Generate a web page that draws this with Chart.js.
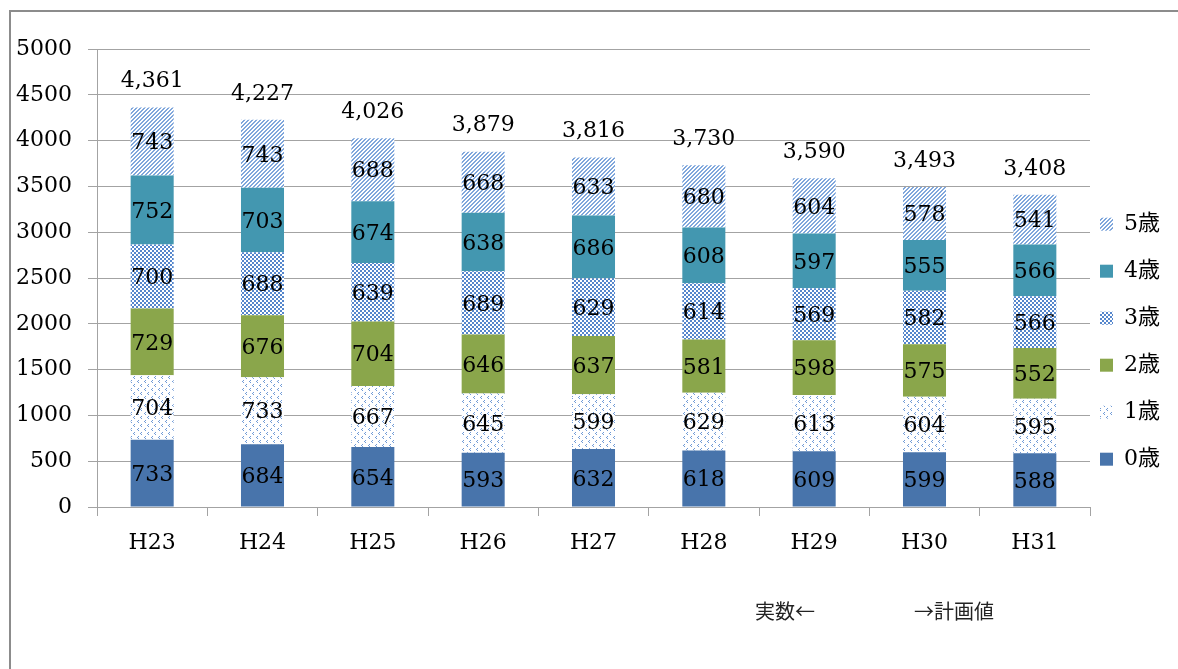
<!DOCTYPE html>
<html lang="ja">
<head>
    <meta charset="UTF-8">
    <title>年齢別児童数の推移</title>
    <script src="https://cdn.jsdelivr.net/npm/chart.js"></script>
    <style>
        html, body { margin: 0; padding: 0; background: #fff; overflow: hidden; }
        #wrap { position: relative; width: 1178px; height: 669px; }
        #frame { position: absolute; left: 9px; top: 10px; width: 1300px; height: 800px; border: 2px solid #8c8c8c; box-sizing: border-box; }
        canvas { position: absolute; left: 0; top: 0; }
        .note { position: absolute; top: 600px; font-family: "Noto Sans CJK JP", sans-serif; font-size: 20px; line-height: 22px; color: #222; }
    </style>
</head>
<body>
<div id="wrap">
    <div id="frame"></div>
    <canvas id="chartKids" width="1178" height="669"></canvas>
    <span class="note" style="left: 755px;">実数←</span>
    <span class="note" style="left: 914px;">→計画値</span>
</div>

<script>
// data
const years = ['H23', 'H24', 'H25', 'H26', 'H27', 'H28', 'H29', 'H30', 'H31'];
const ages = ['0歳', '1歳', '2歳', '3歳', '4歳', '5歳'];
const age0 = [733, 684, 654, 593, 632, 618, 609, 599, 588];
const age1 = [704, 733, 667, 645, 599, 629, 613, 604, 595];
const age2 = [729, 676, 704, 646, 637, 581, 598, 575, 552];
const age3 = [700, 688, 639, 689, 629, 614, 569, 582, 566];
const age4 = [752, 703, 674, 638, 686, 608, 597, 555, 566];
const age5 = [743, 743, 688, 668, 633, 680, 604, 578, 541];
const totals = [4361, 4227, 4026, 3879, 3816, 3730, 3590, 3493, 3408];
const yMax = 5000;
const yStep = 500;

const serif = "'DejaVu Serif', 'Noto Sans CJK JP', serif";
const gridGray = '#a3a3a3';

// fill patterns like the office chart
function makePattern(w, h, draw) {
    const c = document.createElement('canvas');
    c.width = w;
    c.height = h;
    const g = c.getContext('2d');
    g.fillStyle = '#fff';
    g.fillRect(0, 0, w, h);
    draw(g, w, h);
    return g.createPattern(c, 'repeat');
}

// crisp "/" hatching, 2px lines with 2px gaps
const stripes = makePattern(4, 4, (g) => {
    g.fillStyle = '#80a7dc';
    for (let y = 0; y < 4; y++) {
        for (let x = 0; x < 4; x++) {
            if ((x + y) % 4 === 3 || (x + y) % 4 === 0) g.fillRect(x, y, 1, 1);
        }
    }
});

const checker = makePattern(4, 4, (g) => {
    g.fillStyle = '#5586cc';
    g.fillRect(2, 0, 2, 2);
    g.fillRect(0, 2, 2, 2);
});

const dots = makePattern(7, 8, (g) => {
    g.fillStyle = '#6f9ad6';
    g.fillRect(1, 0, 1, 1); g.fillRect(0, 1, 1, 1); g.fillRect(1, 2, 1, 1);
    g.fillRect(5, 4, 1, 1); g.fillRect(4, 5, 1, 1); g.fillRect(5, 6, 1, 1);
});

const fills = ['#4874ab', dots, '#8aa64b', checker, '#4397b0', stripes];
const series = [age0, age1, age2, age3, age4, age5];

// numbers inside the bars and totals above them
const valueLabels = {
    id: 'valueLabels',
    afterDatasetsDraw(chart) {
        const ctx = chart.ctx;
        ctx.save();
        ctx.font = "22px " + serif;
        ctx.fillStyle = '#000';
        ctx.textAlign = 'center';
        ctx.textBaseline = 'middle';
        chart.data.datasets.forEach((ds, i) => {
            chart.getDatasetMeta(i).data.forEach((bar, j) => {
                const p = bar.getCenterPoint();
                ctx.fillText(ds.data[j], p.x, p.y + 2);
            });
        });
        const topBars = chart.getDatasetMeta(chart.data.datasets.length - 1).data;
        topBars.forEach((bar, j) => {
            ctx.fillText(totals[j].toLocaleString('en-US'), bar.x, bar.y - 26);
        });
        ctx.restore();
    }
};

Chart.defaults.color = '#000';

new Chart(document.getElementById('chartKids'), {
    type: 'bar',
    data: {
        labels: years,
        datasets: series.map((d, i) => ({
            label: ages[i],
            data: d,
            backgroundColor: fills[i],
            borderWidth: 0,
            barPercentage: 0.39,
            categoryPercentage: 1
        }))
    },
    options: {
        responsive: false,
        animation: false,
        layout: { padding: { left: 13, right: 8, top: 49, bottom: 102 } },
        plugins: {
            tooltip: { enabled: false },
            legend: {
                position: 'right',
                reverse: true,
                title: { display: true, text: '', font: { size: 12 }, padding: { top: 0, bottom: 68 } },
                labels: {
                    boxWidth: 13,
                    boxHeight: 13,
                    padding: 10,
                    color: '#000',
                    font: { family: serif, size: 22, lineHeight: 37 / 22 },
                    // one-line arrays so the font line height sets the row spacing
                    generateLabels: chart => Chart.defaults.plugins.legend.labels.generateLabels(chart)
                        .map(item => Object.assign(item, { text: [item.text] }))
                }
            }
        },
        scales: {
            x: {
                stacked: true,
                grid: { offset: true, drawOnChartArea: false, tickLength: 9, color: gridGray },
                border: { color: gridGray },
                ticks: { padding: 14, font: { family: serif, size: 22 } },
                afterFit: s => { s.height = 60; }
            },
            y: {
                stacked: true,
                min: 0,
                max: yMax,
                grid: { tickLength: 9, color: gridGray },
                border: { color: gridGray },
                ticks: {
                    stepSize: yStep,
                    padding: 16,
                    font: { family: serif, size: 22 },
                    callback: v => String(v)
                },
                afterFit: s => { s.width = 84; }
            }
        }
    },
    plugins: [valueLabels]
});
</script>
</body>
</html>
